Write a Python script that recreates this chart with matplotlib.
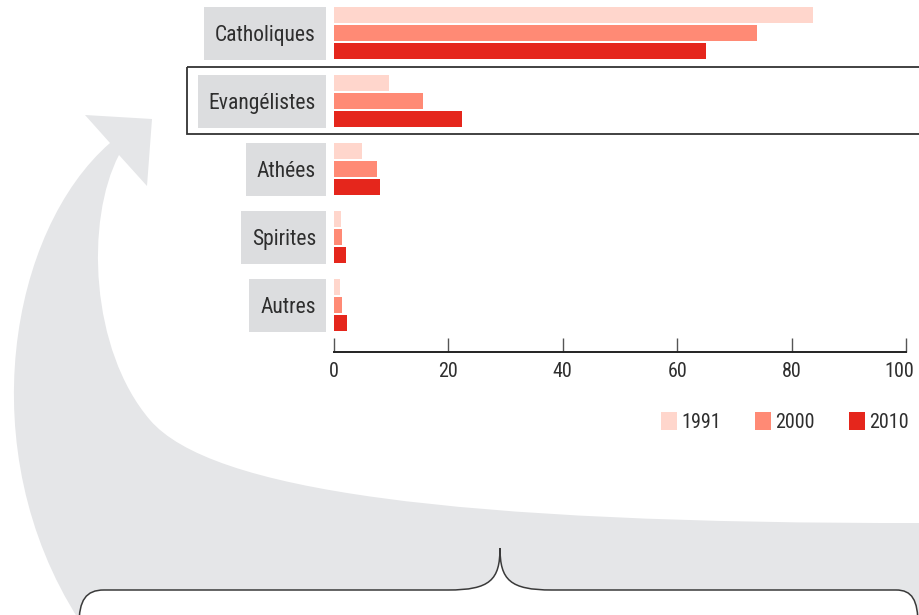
import matplotlib
matplotlib.use('Agg')
import matplotlib.pyplot as plt
from matplotlib import font_manager
from matplotlib.path import Path
from matplotlib.patches import PathPatch, Rectangle
from matplotlib.transforms import ScaledTranslation
import numpy as np

categories = ['Catholiques', 'Evangélistes', 'Athées', 'Spirites', 'Autres']
years = ['1991', '2000', '2010']
v1991 = [83.8, 9.6, 4.9, 1.2, 1.0]
v2000 = [74.0, 15.6, 7.5, 1.4, 1.4]
v2010 = [65.0, 22.3, 8.0, 2.1, 2.3]
xticks = [0, 20, 40, 60, 80, 100]
colors = ['#FFD6CC', '#FF8A75', '#E5261C']
highlight = 'Evangélistes'

available = {f.name for f in font_manager.fontManager.ttflist}
FONT = 'DejaVu Sans'
for fam in ['Liberation Sans Narrow', 'Roboto Condensed', 'Open Sans Condensed', 'Liberation Sans']:
    if fam in available:
        FONT = fam
        break
plt.rcParams['font.family'] = [FONT, 'DejaVu Sans']
TXT = '#2e2e2e'

W, H = 920, 615
fig = plt.figure(figsize=(W / 100, H / 100), dpi=100)
bg = fig.add_axes([0, 0, 1, 1], zorder=0)
bg.set_xlim(0, W)
bg.set_ylim(H, 0)
bg.axis('off')

# big grey curved arrow
C4, L = Path.CURVE4, Path.LINETO
verts = [(79, 620),
         (-30, 450), (10, 230), (110, 143),
         (85, 115), (152, 119), (147, 186), (119, 155),
         (85, 220), (90, 350), (150, 420),
         (210, 490), (450, 524), (925, 523),
         (925, 620), (79, 620)]
codes = [Path.MOVETO, C4, C4, C4, L, L, L, L, C4, C4, C4, C4, C4, C4, L, Path.CLOSEPOLY]
bg.add_patch(PathPatch(Path(verts, codes), fc='#E5E6E8', ec='none', zorder=0))

# bracket
bverts = [(79, 625), (79, 600), (86, 590), (104, 590),
          (448, 590),
          (490, 590), (500, 580), (500, 548),
          (500, 580), (510, 590), (552, 590),
          (896, 590),
          (912, 590), (918, 600), (918, 625)]
bcodes = [Path.MOVETO, C4, C4, C4, L, C4, C4, C4, C4, C4, C4, L, C4, C4, C4]
bg.add_patch(PathPatch(Path(bverts + [(79, 625)], bcodes + [Path.CLOSEPOLY]),
                       fc='white', ec='none', zorder=1))
bg.add_patch(PathPatch(Path(bverts, bcodes), fc='none', ec='#3a3a3a', lw=1.1, zorder=1))

# main bar axes
ax_left, ax_right, ax_bottom_px = 334, 906, 352
ax = fig.add_axes([ax_left / W, 1 - ax_bottom_px / H, (ax_right - ax_left) / W, ax_bottom_px / H], zorder=2)
ax.patch.set_alpha(0)
pitch, first = 68.0, 33.0
ypos = np.arange(len(categories))
off, bh = 18.0 / pitch, 16.5 / pitch
bars = []
for k, (vals, c) in enumerate(zip([v1991, v2000, v2010], colors)):
    bars.append(ax.barh(ypos + (k - 1) * off, vals, height=bh, color=c, label=years[k]))
ax.set_xlim(0, 100)
ax.set_ylim((ax_bottom_px - first) / pitch, -first / pitch)
for s in ['top', 'left', 'right']:
    ax.spines[s].set_visible(False)
ax.spines['bottom'].set_color('#222222')
ax.spines['bottom'].set_linewidth(1.4)
ax.set_yticks([])
ax.set_xticks(xticks)
ax.set_xticklabels([str(t) for t in xticks])
ax.tick_params(axis='x', direction='in', length=10, width=1, color='#555555', pad=7,
               labelsize=14.5, labelcolor=TXT)
last = ax.get_xticklabels()[-1]
last.set_transform(last.get_transform() + ScaledTranslation(-7 / 100, 0, fig.dpi_scale_trans))

leg = ax.legend(handles=[b for b in bars], labels=years, loc='center right',
                bbox_to_anchor=(909 / W, 1 - 422 / H), bbox_transform=fig.transFigure,
                ncol=3, frameon=False, fontsize=14.5, handlelength=0.8, handleheight=0.95,
                handletextpad=0.2, columnspacing=1.7, borderpad=0, borderaxespad=0)
for t in leg.get_texts():
    t.set_color(TXT)

# category labels in grey boxes
texts = []
for i, cat in enumerate(categories):
    cy = first + i * pitch
    t = bg.text(316, cy + 2.5, cat, ha='right', va='center', fontsize=15.5, color=TXT, zorder=3)
    texts.append((t, cy))
fig.canvas.draw()
r = fig.canvas.get_renderer()
for t, cy in texts:
    bb = t.get_window_extent(renderer=r)
    x0 = bb.x0 - 11
    bg.add_patch(Rectangle((x0, cy - 26.5), 326 - x0, 53, fc='#DCDDDF', ec='none', zorder=2))

# highlight frame
hi = categories.index(highlight)
cy = first + hi * pitch
bg.add_patch(Rectangle((187, cy - 34), 745, 67, fill=False, ec='#333333', lw=1.3, zorder=3,
                       clip_on=False))

fig.savefig('out.png', dpi=100)
